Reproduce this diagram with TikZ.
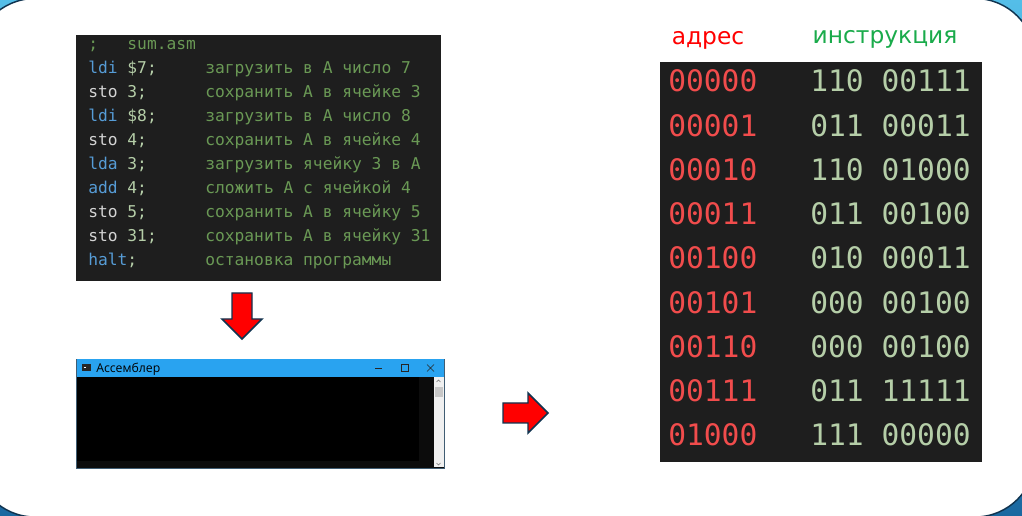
\documentclass[tikz,border=0pt]{standalone}
\usepackage{fontspec}
\setmainfont{DejaVu Sans}
\setsansfont{Open Sans}
\setmonofont{DejaVu Sans Mono}
\definecolor{bgtop}{RGB}{84,190,232}
\definecolor{bgbot}{RGB}{26,104,160}
\definecolor{edge}{RGB}{16,52,80}
\definecolor{panel}{RGB}{30,30,30}
\definecolor{kw}{RGB}{86,156,214}
\definecolor{plain}{RGB}{212,212,212}
\definecolor{num}{RGB}{181,206,168}
\definecolor{cmtgreen}{RGB}{106,153,85}
\definecolor{addrred}{RGB}{241,76,76}
\definecolor{hdrgreen}{RGB}{26,171,75}
\definecolor{titleblue}{RGB}{41,163,240}
\definecolor{conbg}{RGB}{12,12,12}
\begin{document}
\begin{tikzpicture}[x=0.75pt, y=-0.75pt,
    code/.style={anchor=base west, inner sep=0pt, font=\ttfamily\fontsize{12.2}{14}\selectfont},
    cmt/.style={code, text=cmtgreen},
    tbl/.style={anchor=base west, inner sep=0pt, font=\ttfamily\fontsize{22.2}{26}\selectfont},
    addr/.style={tbl, text=addrred},
    instr/.style={tbl, text=num},
    hdr/.style={anchor=base, inner sep=0pt, font=\fontsize{17.5}{20}\selectfont},
    bigarrow/.style={fill=red, draw=edge, line width=1.1pt, line join=miter}]
    \useasboundingbox (0,0) rectangle (1022,516);
    \clip (0,0) rectangle (1022,516);
    % фон слайда
    \shade[top color=bgtop, bottom color=bgbot] (0,0) rectangle (1022,516);
    \filldraw[fill=white, draw=edge, line width=1.1pt, rounded corners=45pt] (-25,-1.5) rectangle (1035,517);

    % исходный код
    \fill[panel] (76,35) rectangle (441,281);
    \node[cmt] (hd) at (88,50) {;\ \ \ sum.asm};
    \node[code] (op1) at (88,74) {\color{kw}ldi \color{num}\$7;};
    \node[code] (op2) at (88,98) {\color{plain}sto \color{num}3;};
    \node[code] (op3) at (88,122) {\color{kw}ldi \color{num}\$8;};
    \node[code] (op4) at (88,146) {\color{plain}sto \color{num}4;};
    \node[code] (op5) at (88,170) {\color{kw}lda \color{num}3;};
    \node[code] (op6) at (88,194) {\color{kw}add \color{num}4;};
    \node[code] (op7) at (88,218) {\color{plain}sto \color{num}5;};
    \node[code] (op8) at (88,242) {\color{plain}sto \color{num}31;};
    \node[code] (op9) at (88,266) {\color{kw}halt\color{num};};
    \node[cmt] (c1) at (205,74) {загрузить в А число 7};
    \node[cmt] (c2) at (205,98) {сохранить А в ячейке 3};
    \node[cmt] (c3) at (205,122) {загрузить в А число 8};
    \node[cmt] (c4) at (205,146) {сохранить А в ячейке 4};
    \node[cmt] (c5) at (205,170) {загрузить ячейку 3 в А};
    \node[cmt] (c6) at (205,194) {сложить А с ячейкой 4};
    \node[cmt] (c7) at (205,218) {сохранить А в ячейку 5};
    \node[cmt] (c8) at (205,242) {сохранить А в ячейку 31};
    \node[cmt] (c9) at (205,266) {остановка программы};

    % стрелки
    \filldraw[bigarrow] (232,293) -- (252,293) -- (252,319) -- (262,319) -- (242,339) -- (222,319) -- (232,319) -- cycle;
    \filldraw[bigarrow] (503,403) -- (528,403) -- (528,393) -- (548,413) -- (528,433) -- (528,423) -- (503,423) -- cycle;

    % окно ассемблера
    \filldraw[fill=conbg, draw=edge!80, line width=0.7pt] (76,359) rectangle (444,468);
    \fill[titleblue] (76.5,359.5) rectangle (443.5,377);
    \fill[black] (77,377) rectangle (419,461);
    \fill[black!6] (434,377) rectangle (443.5,467.5);
    \fill[black!22] (434.5,387) rectangle (443,397);
    \draw[black!55, line width=0.5pt] (436.5,382) -- (438.5,380) -- (440.5,382);
    \draw[black!55, line width=0.5pt] (436.5,463) -- (438.5,465) -- (440.5,463);
    \fill[black!85] (82,364.5) rectangle (91,371.5);
    \draw[white, line width=0.5pt] (83.5,367) -- (86,367);
    \node[anchor=base west, inner sep=0pt, font=\sffamily\fontsize{9.2}{11}\selectfont] (ttl) at (96,373) {Ассемблер};
    \draw[black!85, line width=0.5pt] (375,368.5) -- (382,368.5);
    \draw[black!85, line width=0.5pt] (401,364.5) rectangle (408,371.5);
    \draw[black!85, line width=0.5pt] (427,364.5) -- (434,371.5) (427,371.5) -- (434,364.5);

    % заголовки
    \node[hdr, text=red] (hA) at (708,45) {адрес};
    \node[hdr, text=hdrgreen] (hI) at (885,44) {инструкция};

    % машинный код
    \fill[panel] (660,62) rectangle (982,462);
    \node[addr] (a0) at (668,92) {00000};
    \node[addr] (a1) at (668,137) {00001};
    \node[addr] (a2) at (668,181) {00010};
    \node[addr] (a3) at (668,225) {00011};
    \node[addr] (a4) at (668,269) {00100};
    \node[addr] (a5) at (668,314) {00101};
    \node[addr] (a6) at (668,358) {00110};
    \node[addr] (a7) at (668,402) {00111};
    \node[addr] (a8) at (668,446) {01000};
    \node[instr] (i0) at (810,92) {110 00111};
    \node[instr] (i1) at (810,137) {011 00011};
    \node[instr] (i2) at (810,181) {110 01000};
    \node[instr] (i3) at (810,225) {011 00100};
    \node[instr] (i4) at (810,269) {010 00011};
    \node[instr] (i5) at (810,314) {000 00100};
    \node[instr] (i6) at (810,358) {000 00100};
    \node[instr] (i7) at (810,402) {011 11111};
    \node[instr] (i8) at (810,446) {111 00000};
\end{tikzpicture}
\end{document}
